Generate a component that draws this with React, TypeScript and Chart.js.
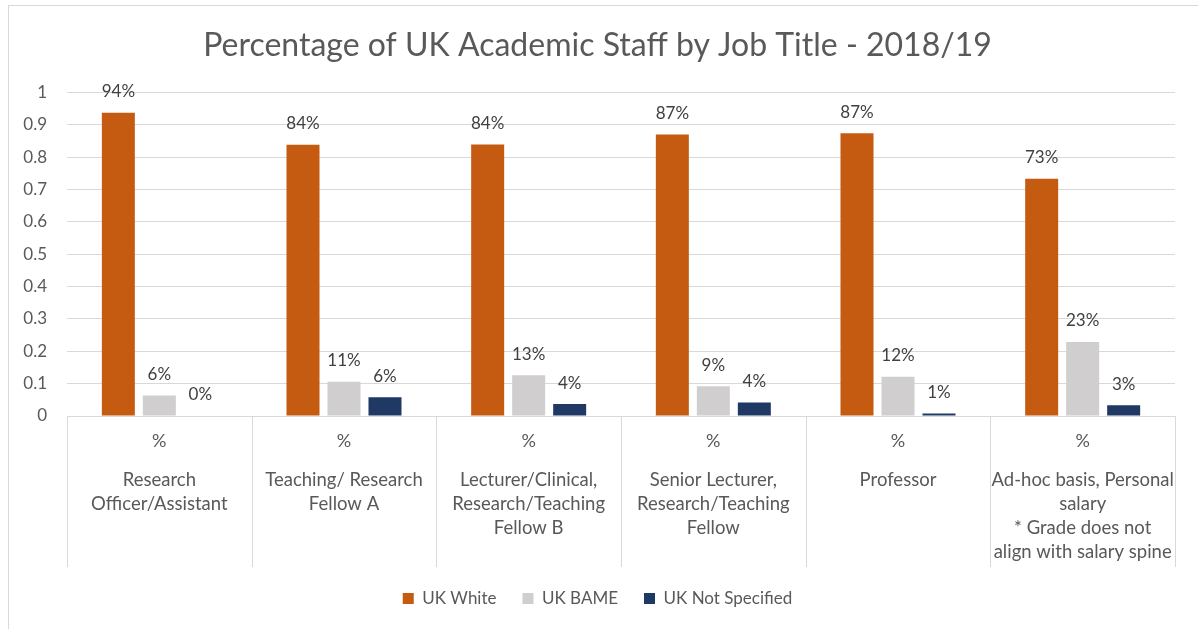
import React, { useEffect, useRef } from "react";
import { Chart, registerables } from "chart.js";

Chart.register(...registerables);

const unitLabels = ["%", "%", "%", "%", "%", "%"];
const jobTitles: string[][] = [
  ["Research", "Officer/Assistant"],
  ["Teaching/ Research", "Fellow A"],
  ["Lecturer/Clinical,", "Research/Teaching", "Fellow B"],
  ["Senior Lecturer,", "Research/Teaching", "Fellow"],
  ["Professor"],
  ["Ad-hoc basis, Personal", "salary", "* Grade does not", "align with salary spine"],
];
const ukWhite = [0.937, 0.838, 0.839, 0.87, 0.874, 0.733];
const ukBame = [0.063, 0.106, 0.126, 0.092, 0.121, 0.229];
const ukNotSpecified = [0, 0.058, 0.037, 0.042, 0.008, 0.033];
const yTicks = [0, 0.1, 0.2, 0.3, 0.4, 0.5, 0.6, 0.7, 0.8, 0.9, 1];

const FONT = "Lato, 'Open Sans', sans-serif";
const TEXT = "#595959";
const GRID = "#D9D9D9";

const labelPlugin = {
  id: "barLabels",
  afterDatasetsDraw(chart: any) {
    const ctx = chart.ctx;
    ctx.save();
    ctx.font = `17px ${FONT}`;
    ctx.fillStyle = "#404040";
    ctx.textAlign = "center";
    ctx.textBaseline = "middle";
    chart.data.datasets.forEach((ds: any, di: number) => {
      const meta = chart.getDatasetMeta(di);
      meta.data.forEach((el: any, i: number) => {
        const v = ds.data[i] as number;
        ctx.fillText(`${Math.round(v * 100)}%`, el.x, el.y - 21);
      });
    });
    ctx.restore();
  },
};

const separatorPlugin = {
  id: "separators",
  afterDraw(chart: any) {
    const xs = chart.scales.x;
    const n = chart.data.labels.length;
    const ctx = chart.ctx;
    const top = chart.chartArea.bottom;
    ctx.save();
    ctx.strokeStyle = GRID;
    ctx.lineWidth = 1;
    for (let i = 0; i <= n; i++) {
      let x: number;
      if (i === 0) x = xs.left;
      else if (i === n) x = xs.right;
      else x = (xs.getPixelForValue(i - 1) + xs.getPixelForValue(i)) / 2;
      x = Math.round(x) + 0.5;
      ctx.beginPath();
      ctx.moveTo(x, top);
      ctx.lineTo(x, top + 151);
      ctx.stroke();
    }
    ctx.restore();
  },
};

export default function App() {
  const ref = useRef<HTMLCanvasElement | null>(null);
  useEffect(() => {
    if (!ref.current) return;
    const chart = new Chart(ref.current, {
      type: "bar",
      data: {
        labels: unitLabels,
        datasets: [
          { label: "UK White", data: ukWhite, backgroundColor: "#C55A11" },
          { label: "UK BAME", data: ukBame, backgroundColor: "#D0CECE" },
          { label: "UK Not Specified", data: ukNotSpecified, backgroundColor: "#1F3864" },
        ],
      },
      options: {
        animation: false,
        responsive: false,
        maintainAspectRatio: false,
        layout: { padding: { left: 20, right: 23, top: 8, bottom: 12 } },
        datasets: { bar: { categoryPercentage: 0.666, barPercentage: 0.805 } },
        plugins: {
          title: {
            display: true,
            text: "Percentage of UK Academic Staff by Job Title - 2018/19",
            color: TEXT,
            font: { family: FONT, size: 32, weight: "normal" },
            padding: { top: 18, bottom: 28 },
          },
          legend: {
            position: "bottom",
            labels: {
              color: TEXT,
              font: { family: FONT, size: 17 },
              boxWidth: 11,
              boxHeight: 11,
              padding: 26,
            },
          },
          tooltip: { enabled: false },
        },
        scales: {
          y: {
            min: 0,
            max: 1,
            afterBuildTicks: (s: any) => {
              s.ticks = yTicks.map((v) => ({ value: v }));
            },
            afterFit: (s: any) => {
              s.width = 47;
            },
            ticks: {
              color: TEXT,
              font: { family: FONT, size: 17 },
              padding: 20,
              callback: (v: any) => String(Number(Number(v).toFixed(1))),
            },
            grid: { color: GRID, drawTicks: false },
            border: { display: false },
          },
          x: {
            position: "bottom",
            weight: 0,
            afterFit: (s: any) => {
              s.height = 40;
            },
            ticks: {
              color: TEXT,
              font: { family: FONT, size: 18 },
              padding: 14,
              maxRotation: 0,
              autoSkip: false,
            },
            grid: { display: false, drawTicks: false },
            border: { display: true, color: GRID },
          },
          x2: {
            type: "category",
            position: "bottom",
            weight: 1,
            labels: jobTitles as any,
            afterFit: (s: any) => {
              s.height = 108;
            },
            ticks: {
              color: TEXT,
              font: { family: FONT, size: 18.5, lineHeight: 1.3 },
              padding: 12,
              maxRotation: 0,
              autoSkip: false,
            },
            grid: { display: false, drawTicks: false },
            border: { display: false },
          },
        },
      } as any,
      plugins: [labelPlugin, separatorPlugin],
    });
    return () => chart.destroy();
  }, []);
  return (
    <div style={{ position: "fixed", left: 0, top: 0, width: 1198, height: 629, background: "#fff" }}>
      <canvas ref={ref} width={1198} height={629} style={{ position: "absolute", left: 0, top: 0 }} />
      <div
        style={{
          position: "absolute",
          left: 8,
          top: 5,
          width: 1300,
          height: 700,
          borderLeft: "1px solid #D9D9D9",
          borderTop: "1px solid #D9D9D9",
          pointerEvents: "none",
        }}
      />
    </div>
  );
}
